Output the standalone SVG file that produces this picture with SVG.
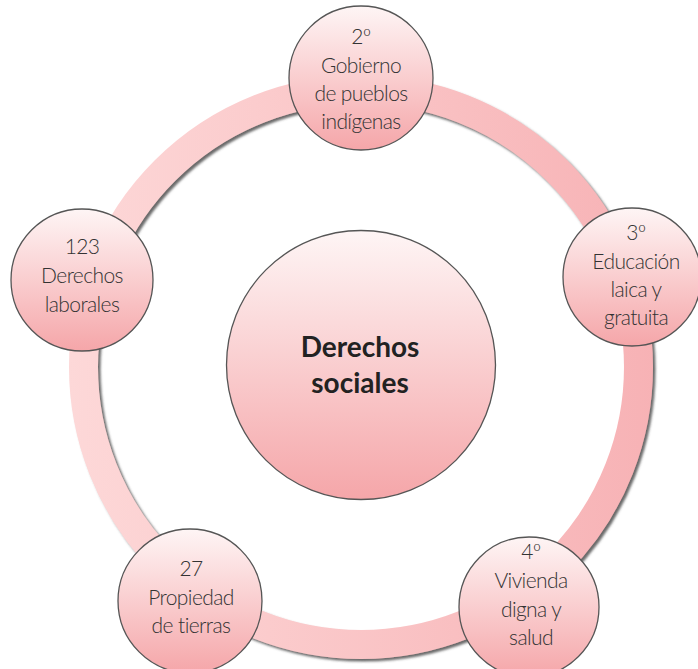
<svg xmlns="http://www.w3.org/2000/svg" width="698" height="669" viewBox="0 0 698 669">
<defs>
<linearGradient id="ringGrad" gradientUnits="userSpaceOnUse" x1="69" y1="0" x2="655" y2="0">
<stop offset="0" stop-color="#fdd8d8"/>
<stop offset="1" stop-color="#f7b2b5"/>
</linearGradient>
<linearGradient id="nodeGrad" x1="0" y1="0" x2="0" y2="1">
<stop offset="0" stop-color="#fef5f5"/>
<stop offset="1" stop-color="#f5a6a9"/>
</linearGradient>
<filter id="shadow" x="-10%" y="-10%" width="120%" height="120%">
<feDropShadow dx="2.5" dy="2.5" stdDeviation="1" flood-color="#444" flood-opacity="0.8"/>
</filter>
<style>
.node{fill:url(#nodeGrad);stroke:#555;stroke-width:1.3}
.lbl{font-family:Lato,"Open Sans","Liberation Sans",sans-serif;font-weight:300;font-size:21px;letter-spacing:-0.6px;fill:#333;text-anchor:middle}
.main{font-family:Lato,"Open Sans","Liberation Sans",sans-serif;font-weight:700;font-size:28px;fill:#222;text-anchor:middle}
</style>
</defs>
<rect width="698" height="669" fill="#fff"/>
<g id="connectors">
<circle cx="361" cy="367" r="277.5" fill="none" stroke="url(#ringGrad)" stroke-width="29" filter="url(#shadow)"/>
</g>
<g id="center">
<circle class="node" cx="361" cy="365" r="134.5"/>
<text class="main" x="360" y="357">Derechos</text>
<text class="main" x="360" y="393">sociales</text>
</g>
<g id="n2">
<circle class="node" cx="361" cy="78" r="72"/>
<text class="lbl" x="361" y="44">2º</text>
<text class="lbl" x="361" y="73">Gobierno</text>
<text class="lbl" x="361" y="101">de pueblos</text>
<text class="lbl" x="361" y="129">indígenas</text>
</g>
<g id="n3">
<circle class="node" cx="632" cy="277" r="69"/>
<text class="lbl" x="636" y="240">3º</text>
<text class="lbl" x="636" y="269">Educación</text>
<text class="lbl" x="636" y="297">laica y</text>
<text class="lbl" x="636" y="325">gratuita</text>
</g>
<g id="n4">
<circle class="node" cx="529" cy="607" r="70"/>
<text class="lbl" x="531" y="559">4º</text>
<text class="lbl" x="531" y="588">Vivienda</text>
<text class="lbl" x="531" y="617">digna y</text>
<text class="lbl" x="531" y="645">salud</text>
</g>
<g id="n27">
<circle class="node" cx="190" cy="601" r="72"/>
<text class="lbl" x="191" y="576">27</text>
<text class="lbl" x="191" y="605">Propiedad</text>
<text class="lbl" x="191" y="633">de tierras</text>
</g>
<g id="n123">
<circle class="node" cx="82" cy="280" r="71"/>
<text class="lbl" x="82" y="254">123</text>
<text class="lbl" x="82" y="283">Derechos</text>
<text class="lbl" x="82" y="312">laborales</text>
</g>
</svg>
